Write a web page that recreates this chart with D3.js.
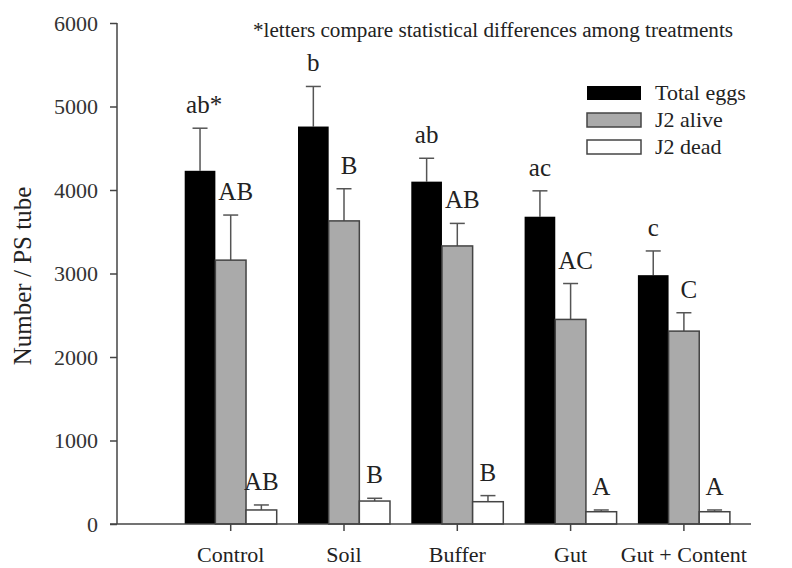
<!DOCTYPE html>
<html>
<head>
<meta charset="utf-8">
<script src="https://cdn.jsdelivr.net/npm/d3@7"></script>
<style>
  html, body { margin: 0; padding: 0; background: #fff; }
  svg { display: block; }
  svg text { font-family: "Liberation Serif", "Times New Roman", serif !important; }
</style>
</head>
<body>
<svg id="chart" width="792" height="568" font-family="Liberation Serif, serif"></svg>
<script>
// ---- data ----
const categories = ["Control", "Soil", "Buffer", "Gut", "Gut + Content"];
const seriesNames = ["Total eggs", "J2 alive", "J2 dead"];
const totalEggs = [4230, 4760, 4100, 3680, 2980];
const totalEggsErr = [510, 480, 280, 310, 290];
const j2Alive = [3160, 3630, 3330, 2450, 2310];
const j2AliveErr = [540, 385, 270, 430, 220];
const j2Dead = [168, 275, 267, 147, 147];
const j2DeadErr = [60, 33, 73, 21, 21];
const lettersTotal = ["ab*", "b", "ab", "ac", "c"];
const lettersAlive = ["AB", "B", "AB", "AC", "C"];
const lettersDead = ["AB", "B", "B", "A", "A"];
const yTicks = [0, 1000, 2000, 3000, 4000, 5000, 6000];
const noteText = "*letters compare statistical differences among treatments";
const yLabel = "Number / PS tube";

// ---- build ----
const values = [totalEggs, j2Alive, j2Dead];
const errs = [totalEggsErr, j2AliveErr, j2DeadErr];
const letters = [lettersTotal, lettersAlive, lettersDead];
const fills = ["#000000", "#aaaaaa", "#ffffff"];
const strokes = ["none", "#444", "#444"];
const letterDx = [0, 5, 0];
const FONT = '"Liberation Serif", "Times New Roman", serif';

const svg = d3.select("#chart");
const axisColor = "#444";

const y = d3.scaleLinear().domain([0, 6000]).range([524, 23]);
const x0 = d3.scaleBand().domain(categories).range([163.4, 751.2]).padding(0.188);
const x1 = d3.scaleBand().domain(seriesNames).range([0, x0.bandwidth()]).padding(0);

const axisX = 117;

// y axis
const yAxis = d3.axisLeft(y).tickValues(yTicks).tickSize(7).tickPadding(12).tickFormat(d3.format("d"));
const gy = svg.append("g").attr("transform", `translate(${axisX},0)`).call(yAxis)
  .attr("font-family", FONT);
gy.select(".domain").remove();
gy.selectAll(".tick line").attr("stroke", axisColor).attr("stroke-width", 1.5);
gy.selectAll(".tick text").attr("font-size", 22).attr("fill", "#333");
svg.append("line").attr("x1", axisX).attr("x2", axisX).attr("y1", y(6000)).attr("y2", y(0))
  .attr("stroke", axisColor).attr("stroke-width", 1.5);

// x axis
const xAxis = d3.axisBottom(x0).tickSize(7).tickPadding(0);
const gx = svg.append("g").attr("transform", `translate(0,${y(0)})`).call(xAxis)
  .attr("font-family", FONT);
gx.select(".domain").remove();
gx.selectAll(".tick line").attr("stroke", axisColor).attr("stroke-width", 1.5);
gx.selectAll(".tick text").attr("font-size", 22).attr("fill", "#222")
  .attr("y", 38).attr("dy", 0);

// bars
seriesNames.forEach((s, si) => {
  const g = svg.append("g").attr("font-family", FONT);
  categories.forEach((c, ci) => {
    const v = values[si][ci];
    const e = errs[si][ci];
    const bx = x0(c) + x1(s);
    const bw = x1.bandwidth();
    const cx = bx + bw / 2;
    g.append("line").attr("x1", cx).attr("x2", cx).attr("y1", y(v)).attr("y2", y(v + e))
      .attr("stroke", "#555").attr("stroke-width", 1.5);
    g.append("line").attr("x1", cx - 7.5).attr("x2", cx + 7.5).attr("y1", y(v + e)).attr("y2", y(v + e))
      .attr("stroke", "#555").attr("stroke-width", 1.5);
    g.append("rect").attr("x", bx).attr("y", y(v)).attr("width", bw).attr("height", y(0) - y(v))
      .attr("fill", fills[si]).attr("stroke", strokes[si]).attr("stroke-width", 1.5);
    const lab = letters[si][ci];
    const t = g.append("text").attr("y", y(v + e) - 15).attr("font-size", 25).attr("fill", "#222");
    if (lab.endsWith("*")) {
      t.attr("x", cx - 14).attr("text-anchor", "start").text(lab);
    } else {
      t.attr("x", cx + letterDx[si]).attr("text-anchor", "middle").text(lab);
    }
  });
});

// baseline
svg.append("line").attr("x1", 110).attr("x2", 751).attr("y1", y(0)).attr("y2", y(0))
  .attr("stroke", axisColor).attr("stroke-width", 1.5);

// legend
const leg = svg.append("g").attr("font-family", FONT);
seriesNames.forEach((s, i) => {
  const ly = 86 + i * 27;
  leg.append("rect").attr("x", 587).attr("y", ly).attr("width", 54).attr("height", 14)
    .attr("fill", fills[i]).attr("stroke", i === 0 ? "none" : "#444").attr("stroke-width", 1.5);
  leg.append("text").attr("x", 655).attr("y", ly + 14).attr("font-size", 22).attr("fill", "#222").text(s);
});

// note
svg.append("text").attr("x", 253).attr("y", 37).attr("font-size", 20).attr("font-family", FONT)
  .attr("textLength", 480).attr("lengthAdjust", "spacingAndGlyphs")
  .attr("fill", "#222").text(noteText);

// y label
svg.append("text").attr("transform", `translate(31,276) rotate(-90)`).attr("font-family", FONT)
  .attr("text-anchor", "middle").attr("font-size", 25).attr("fill", "#222").text(yLabel);
</script>
</body>
</html>
